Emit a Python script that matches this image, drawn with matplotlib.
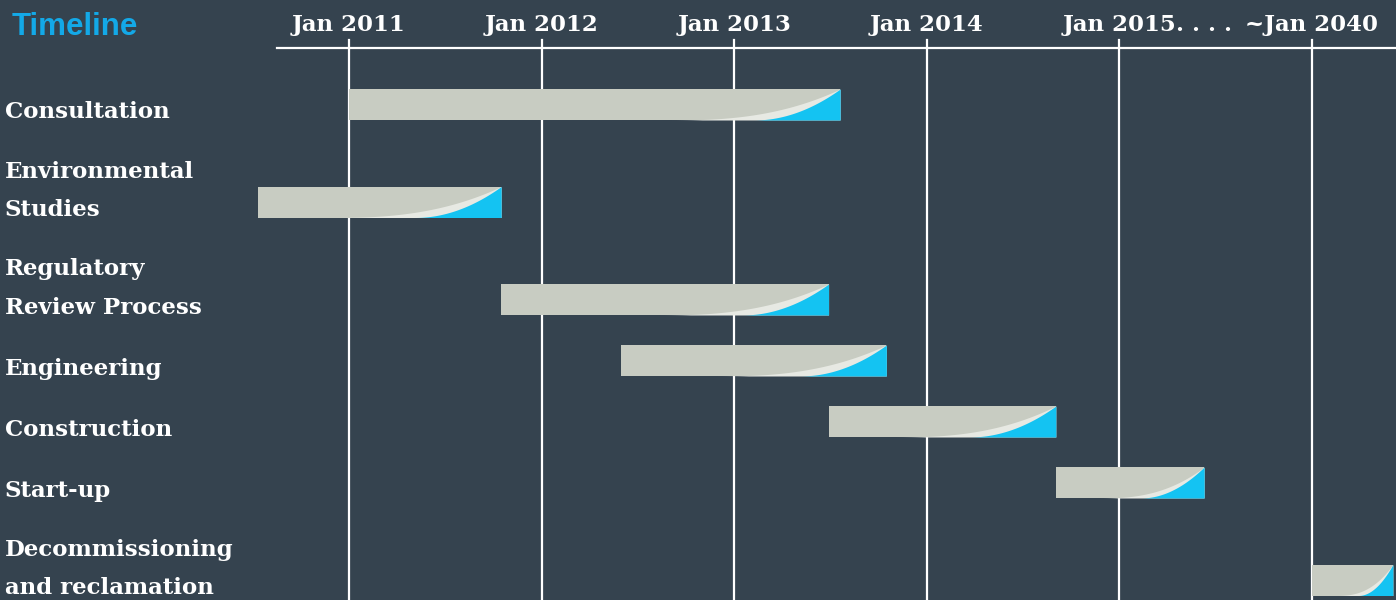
import numpy as np
import matplotlib
matplotlib.use('Agg')
from matplotlib import pyplot as plt

# Tasks and their spans, in "tick slots" from Jan 2011
# (the axis is broken: the slot after Jan 2015 is ~Jan 2040)
tasks = ['Consultation', 'Environmental\nStudies', 'Regulatory\nReview Process',
         'Engineering', 'Construction', 'Start-up', 'Decommissioning\nand reclamation']
starts = [0.00, -0.47, 0.79, 1.41, 2.49, 3.67, 5.00]
ends = [2.55, 0.79, 2.49, 2.79, 3.67, 4.44, 5.42]

tick_pos = [0, 1, 2, 3, 4, 5]
tick_labels = ['Jan 2011', 'Jan 2012', 'Jan 2013', 'Jan 2014', 'Jan 2015', '~Jan 2040']
tick_suffix = ['', '', '', '', '. . . .', '']

bg = '#35434F'
bar_col = '#C8CCC2'
shine = '#E7E9E3'
blue = '#14C3F2'
serif = ['DejaVu Serif']
fs = 16.5

fig = plt.figure(figsize=(13.96, 6), dpi=100, facecolor=bg)
ax = fig.add_axes([0, 0, 1, 1])
ax.set_facecolor(bg)
# x: one slot = 192.6 px, Jan 2011 at px 349; y in pixels, top down
ax.set_xlim(-349 / 192.6, 1047 / 192.6)
ax.set_ylim(600, 0)
ax.axis('off')

# axis line, ticks, gridlines
ax.plot([-72 / 192.6, 1047 / 192.6], [48, 48], color='white', lw=1.6, zorder=1)
for p in tick_pos:
    ax.plot([p, p], [40, 600], color='white', lw=1.6, zorder=1)

for p, lab, suf in zip(tick_pos, tick_labels, tick_suffix):
    t = ax.text(p, 31, lab, ha='center', va='baseline', color='white',
                fontsize=fs, fontweight='bold', family=serif)
    if suf:
        ax.annotate(suf, xy=(1, 0), xycoords=t, va='bottom', ha='left',
                    color='white', fontsize=fs, fontweight='bold', family=serif)

ax.text(12, 600 - 27, 'Timeline', transform=None, color='#13A9E8', fontsize=22.5,
        fontweight='bold', family=['Liberation Sans', 'DejaVu Sans'], va='center')

# row centres: extra room when the label takes two lines
h = 31
yc = 104.5
for i, (task, s, e) in enumerate(zip(tasks, starts, ends)):
    if i > 0:
        yc += 61 + 36.5 * ('\n' in task)
    top, bot = yc - h / 2, yc + h / 2
    ax.fill_between([s, e], top, bot, color=bar_col, lw=0, zorder=3, clip_on=False)
    L = e - s
    for w, pw, col in [(min(0.9, 0.72 * L), 2.6, shine), (min(0.45, 0.43 * L), 2.0, blue)]:
        x = np.linspace(e - w, e, 80)
        f = ((x - (e - w)) / w) ** pw
        ax.fill_between(x, bot, bot - h * f, color=col, lw=0, zorder=4)
    lines = task.split('\n')
    for k, ln in enumerate(lines):
        ax.text(5, 600 - (yc + 14 - 38 * (len(lines) - 1 - k)), ln, transform=None,
                color='white', fontsize=fs, fontweight='bold', family=serif,
                va='baseline')

fig.savefig('out.png', dpi=100, facecolor=bg)
